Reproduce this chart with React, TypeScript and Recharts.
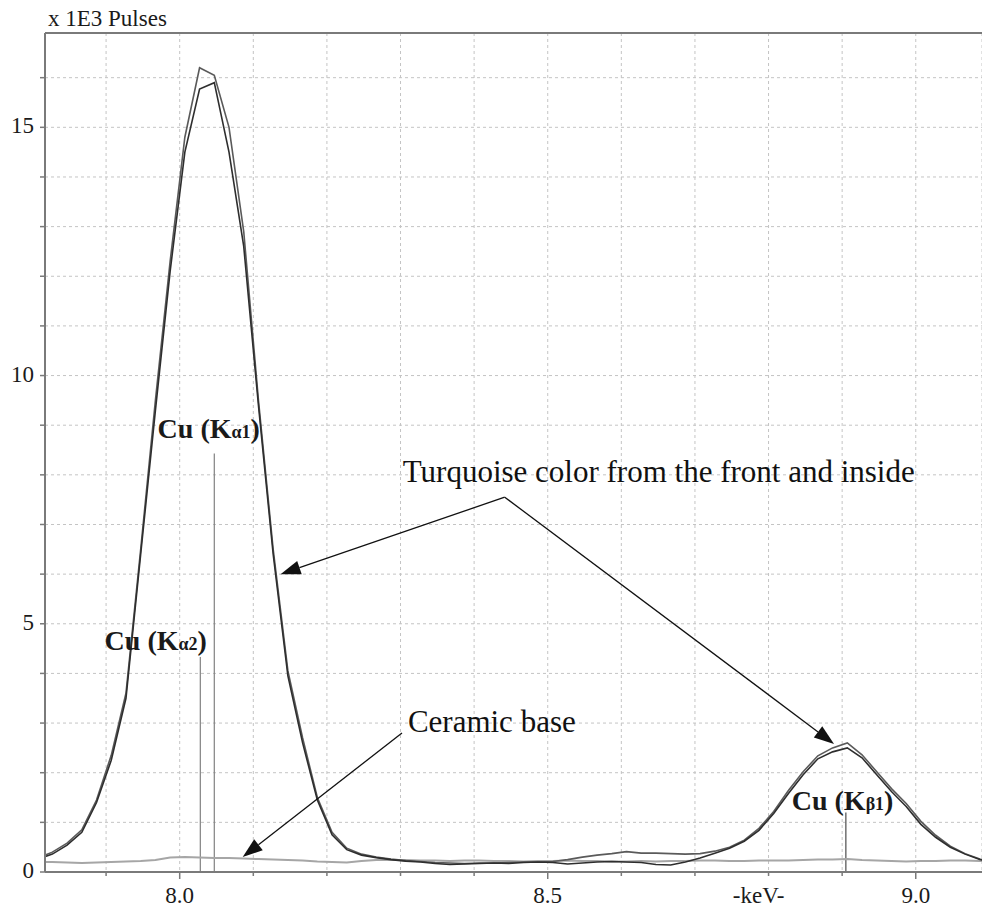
import { LineChart, Line, XAxis, YAxis, CartesianGrid, ReferenceLine, ReferenceDot } from 'recharts';

const keV = [
  7.807, 7.827, 7.847, 7.867, 7.887, 7.907, 7.927, 7.947, 7.967, 7.987,
  8.007, 8.027, 8.047, 8.067, 8.087, 8.107, 8.127, 8.147, 8.167, 8.187,
  8.207, 8.227, 8.247, 8.267, 8.287, 8.307, 8.327, 8.347, 8.367, 8.387,
  8.407, 8.427, 8.447, 8.467, 8.487, 8.507, 8.527, 8.547, 8.567, 8.587,
  8.607, 8.627, 8.647, 8.667, 8.687, 8.707, 8.727, 8.747, 8.767, 8.787,
  8.807, 8.827, 8.847, 8.867, 8.887, 8.907, 8.927, 8.947, 8.967, 8.987,
  9.007, 9.027, 9.047, 9.067, 9.087, 9.107,
];

// turquoise, front (x 1E3 pulses)
const front = [
  0.28, 0.4, 0.58, 0.85, 1.45, 2.35, 3.6, 6.5, 9.5, 12.3,
  14.8, 16.2, 16.05, 15.0, 12.9, 9.5, 6.5, 4.05, 2.7, 1.5,
  0.8, 0.48, 0.36, 0.3, 0.26, 0.23, 0.21, 0.19, 0.18, 0.17,
  0.18, 0.18, 0.19, 0.2, 0.2, 0.21, 0.25, 0.3, 0.34, 0.37,
  0.41, 0.38, 0.38, 0.37, 0.36, 0.37, 0.42, 0.5, 0.64, 0.88,
  1.22, 1.64, 2.02, 2.34, 2.5, 2.6, 2.36, 2.02, 1.68, 1.38,
  1.02, 0.74, 0.52, 0.37, 0.26, 0.21,
];

// turquoise, inside
const inside = [
  0.26, 0.36, 0.54, 0.8, 1.4, 2.25, 3.5, 6.4, 9.3, 12.1,
  14.5, 15.77, 15.9, 14.5, 12.6, 9.4, 6.4, 3.95, 2.6, 1.45,
  0.75, 0.45, 0.34, 0.29, 0.25, 0.22, 0.2, 0.17, 0.15, 0.16,
  0.17, 0.18, 0.17, 0.19, 0.2, 0.19, 0.16, 0.18, 0.2, 0.21,
  0.2, 0.19, 0.15, 0.14, 0.2, 0.28, 0.38, 0.48, 0.62, 0.84,
  1.18, 1.58, 1.96, 2.28, 2.42, 2.5, 2.3, 1.96, 1.62, 1.32,
  0.96, 0.7, 0.5, 0.36, 0.25, 0.2,
];

// ceramic base
const ceramic = [
  0.2, 0.2, 0.19, 0.18, 0.19, 0.2, 0.21, 0.22, 0.24, 0.29,
  0.3, 0.29, 0.28, 0.28, 0.27, 0.26, 0.25, 0.24, 0.23, 0.21,
  0.2, 0.19, 0.22, 0.24, 0.24, 0.24, 0.23, 0.23, 0.22, 0.23,
  0.23, 0.22, 0.22, 0.21, 0.22, 0.22, 0.23, 0.22, 0.22, 0.21,
  0.21, 0.22, 0.21, 0.22, 0.22, 0.23, 0.23, 0.22, 0.22, 0.23,
  0.23, 0.23, 0.24, 0.25, 0.25, 0.26, 0.24, 0.23, 0.22, 0.21,
  0.22, 0.22, 0.23, 0.23, 0.22, 0.22,
];

const xTicks = [7.9, 8.0, 8.1, 8.2, 8.3, 8.4, 8.5, 8.6, 8.7, 8.8, 8.9, 9.0];
const xTickLabels = ['', '8.0', '', '', '', '', '8.5', '', '', '-keV-', '', '9.0'];
const yTicks = [0, 1, 2, 3, 4, 5, 6, 7, 8, 9, 10, 11, 12, 13, 14, 15, 16];
const yTickLabels = ['0', '', '', '', '', '5', '', '', '', '', '10', '', '', '', '', '15', ''];

// line positions (keV) and label heights
const lineKa2 = 8.028;
const lineKa1 = 8.047;
const lineKb1 = 8.905;

const data = keV.map((k, i) => ({ kev: k, front: front[i], inside: inside[i], ceramic: ceramic[i] }));

const SERIF = '"Liberation Serif", "Times New Roman", serif';
const AXIS = '#7a7a7a';

function XTick(props: any) {
  const { x, y, index } = props;
  const label = xTickLabels[index];
  const major = label !== '' && label !== '-keV-';
  const isUnit = label === '-keV-';
  return (
    <g>
      <line x1={x} y1={y} x2={x} y2={y + (major ? 7 : 4)} stroke={AXIS} strokeWidth={1.5} />
      {label && (
        <text x={isUnit ? x - 10 : x} y={y + 31} textAnchor="middle" fontFamily={SERIF} fontSize={23} fill="#1a1a1a">
          {label}
        </text>
      )}
    </g>
  );
}

function YTick(props: any) {
  const { x, y, index } = props;
  const label = yTickLabels[index];
  return (
    <g>
      <line x1={x - 5} y1={y} x2={x} y2={y} stroke={AXIS} strokeWidth={1.5} />
      {label && (
        <text x={x - 11} y={y + 6} textAnchor="end" fontFamily={SERIF} fontSize={23} fill="#1a1a1a">
          {label}
        </text>
      )}
    </g>
  );
}

function Arrow(props: any) {
  const { x1, y1, x2, y2 } = props;
  const a = Math.atan2(y2 - y1, x2 - x1);
  const len = 20;
  const half = 7;
  const bx = x2 - len * Math.cos(a);
  const by = y2 - len * Math.sin(a);
  const p1 = `${bx - half * Math.sin(a)},${by + half * Math.cos(a)}`;
  const p2 = `${bx + half * Math.sin(a)},${by - half * Math.cos(a)}`;
  return (
    <g>
      <line x1={x1} y1={y1} x2={bx} y2={by} stroke="#111" strokeWidth={1.3} />
      <polygon points={`${x2},${y2} ${p1} ${p2}`} fill="#111" />
    </g>
  );
}

const plainText = (text: string) => (props: any) => (
  <text x={props.cx} y={props.cy} fontFamily={SERIF} fontSize={31} fill="#111">
    {text}
  </text>
);

const peakText = (sub: string) => (props: any) => (
  <text x={props.cx} y={props.cy} fontFamily={SERIF} fontSize={28} fontWeight="bold" fill="#1a1a1a">
    <tspan>Cu (K</tspan>
    <tspan fontSize={18}>{sub}</tspan>
    <tspan>)</tspan>
  </text>
);

export default function App() {
  return (
    <div style={{ position: 'absolute', left: 0, top: 0, width: 982, height: 910, background: '#fff' }}>
      <LineChart width={982} height={910} data={data} margin={{ top: 33, right: 0, bottom: 0, left: 0 }}>
        <CartesianGrid stroke="#c4c4c4" strokeDasharray="3 3" />
        <XAxis
          dataKey="kev"
          type="number"
          domain={[7.817, 9.09]}
          allowDataOverflow
          ticks={xTicks}
          interval={0}
          height={38}
          tickSize={0}
          tickMargin={0}
          tickLine={false}
          stroke={AXIS}
          strokeWidth={2}
          tick={<XTick />}
        />
        <YAxis
          type="number"
          domain={[0, 16.9]}
          allowDataOverflow
          ticks={yTicks}
          interval={0}
          width={45}
          tickSize={0}
          tickMargin={0}
          tickLine={false}
          stroke={AXIS}
          strokeWidth={2}
          tick={<YTick />}
          label={{
            content: (p: any) => (
              <text x={p.viewBox.x + p.viewBox.width + 3} y={p.viewBox.y - 7} fontFamily={SERIF} fontSize={23} fill="#1a1a1a">
                x 1E3 Pulses
              </text>
            ),
          }}
        />
        <ReferenceLine y={16.9} stroke={AXIS} strokeWidth={2} ifOverflow="visible" />

        <ReferenceLine segment={[{ x: lineKa2, y: 0 }, { x: lineKa2, y: 4.33 }]} stroke="#808080" strokeWidth={1.2} />
        <ReferenceLine segment={[{ x: lineKa1, y: 0 }, { x: lineKa1, y: 8.43 }]} stroke="#808080" strokeWidth={1.2} />
        <ReferenceLine segment={[{ x: lineKb1, y: 0 }, { x: lineKb1, y: 1.2 }]} stroke="#707070" strokeWidth={1.5} />

        <Line dataKey="ceramic" stroke="#a6a6a6" strokeWidth={2} dot={false} isAnimationActive={false} />
        <Line dataKey="front" stroke="#5a5a5a" strokeWidth={1.6} dot={false} isAnimationActive={false} />
        <Line dataKey="inside" stroke="#2e2e2e" strokeWidth={1.6} dot={false} isAnimationActive={false} />

        <ReferenceLine segment={[{ x: 8.4416, y: 7.55 }, { x: 8.137, y: 6.0 }]} shape={<Arrow />} />
        <ReferenceLine segment={[{ x: 8.4416, y: 7.55 }, { x: 8.889, y: 2.58 }]} shape={<Arrow />} />
        <ReferenceLine segment={[{ x: 8.302, y: 2.8 }, { x: 8.0856, y: 0.3 }]} shape={<Arrow />} />

        <ReferenceDot x={8.303} y={7.85} shape={plainText('Turquoise color from the front and inside')} />
        <ReferenceDot x={8.31} y={2.82} shape={plainText('Ceramic base')} />
        <ReferenceDot x={7.97} y={8.75} shape={peakText('α1')} />
        <ReferenceDot x={7.898} y={4.47} shape={peakText('α2')} />
        <ReferenceDot x={8.8315} y={1.25} shape={peakText('β1')} />
      </LineChart>
    </div>
  );
}
